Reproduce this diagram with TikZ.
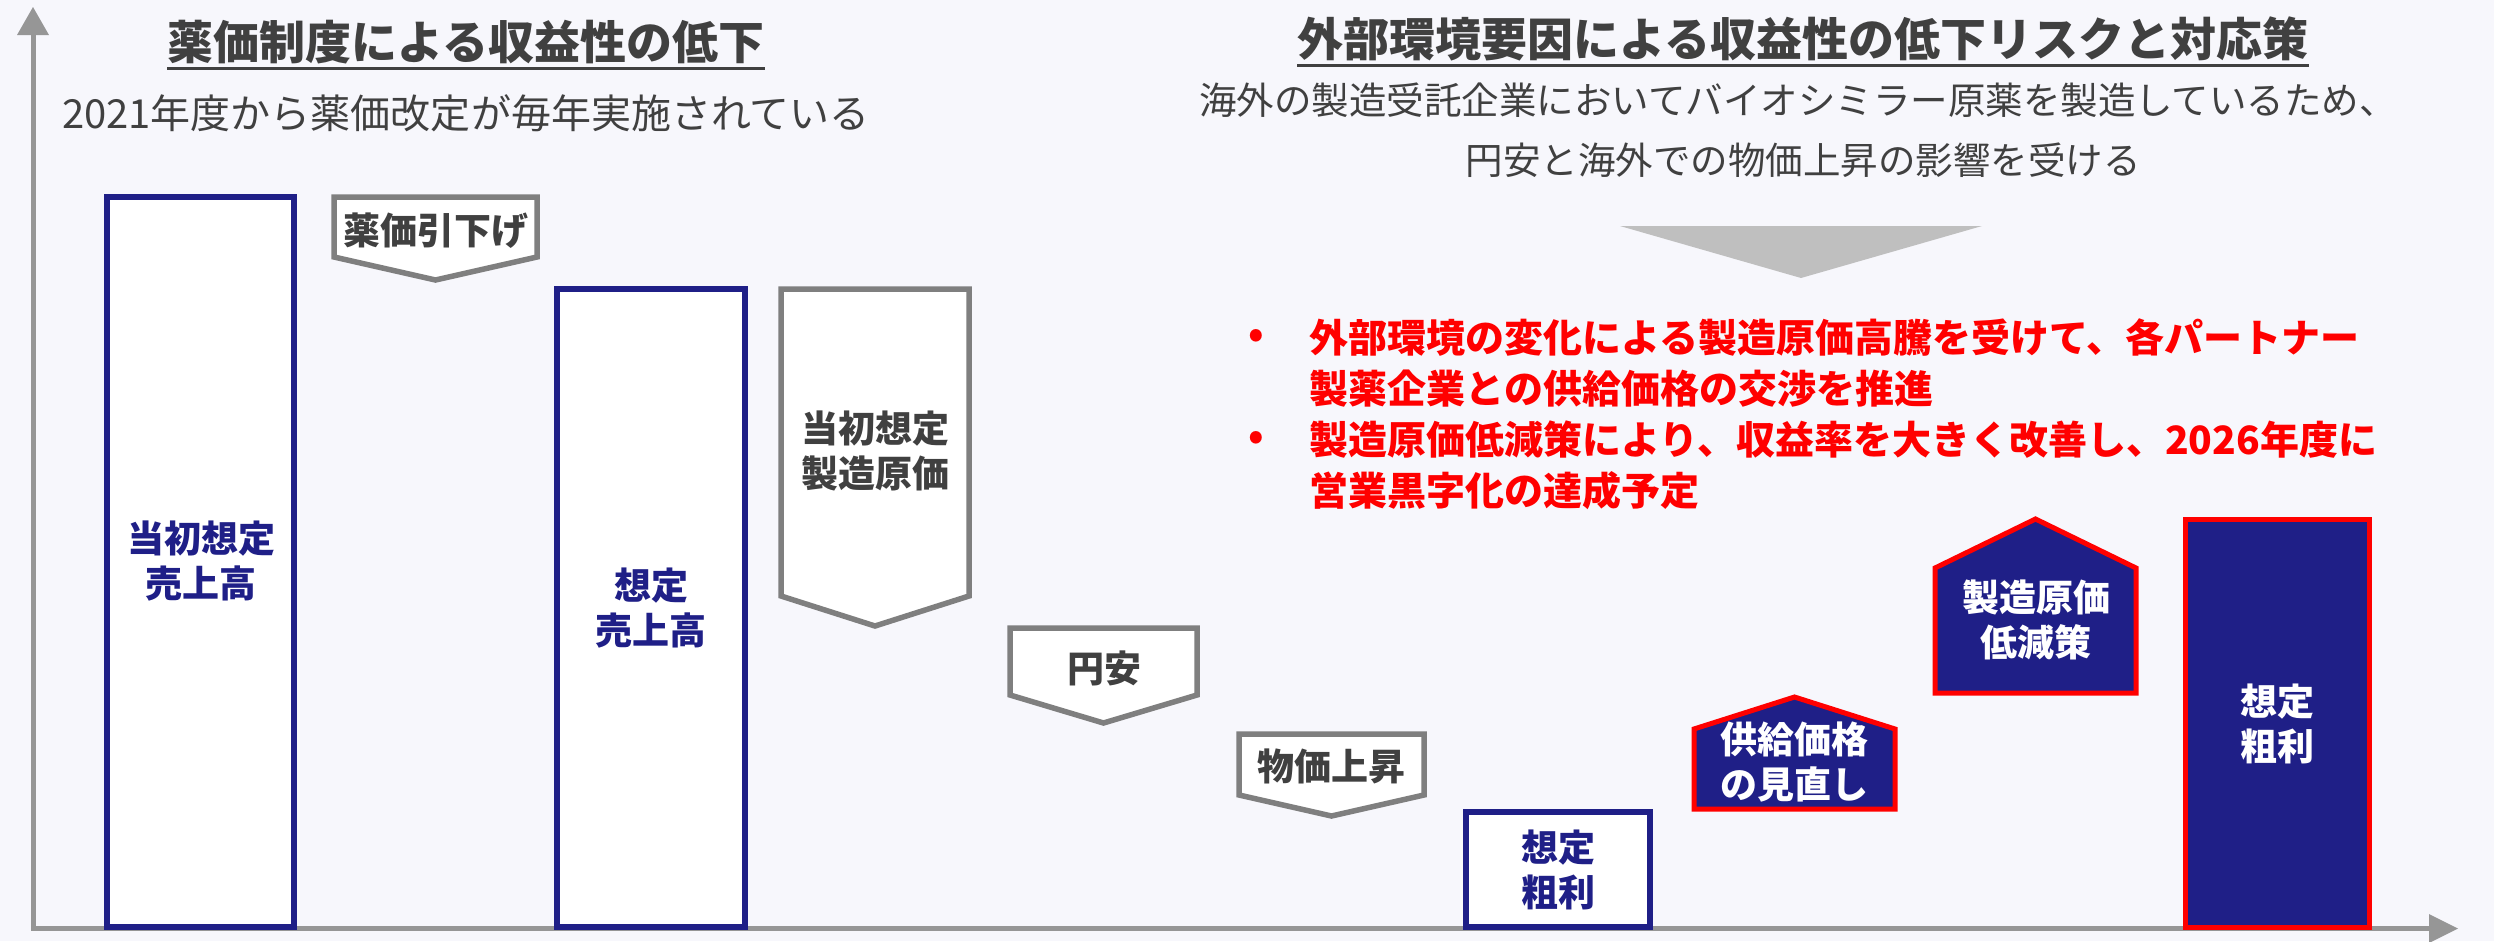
\documentclass[tikz,border=0pt]{standalone}
\usepackage{fontspec}
\setmainfont{Noto Sans CJK JP}
\definecolor{bg}{HTML}{F7F7FC}
\definecolor{navy}{HTML}{1F1F87}
\definecolor{gborder}{HTML}{7F7F7F}
\definecolor{txt}{HTML}{404040}
\definecolor{axisgray}{HTML}{969696}
\definecolor{trigray}{HTML}{BFBFBF}
\definecolor{myred}{HTML}{FF0000}
\begin{document}
\begin{tikzpicture}[x=0.4pt,y=-0.4pt,
  navybar/.style={draw=navy,fill=white,line width=2.2pt},
  graybox/.style={draw=gborder,fill=white,line width=2.2pt,line join=miter},
  redbox/.style={draw=myred,fill=navy,line width=2pt,line join=miter},
  lbl/.style={inner sep=0pt,align=center,font=\fontsize{14.8}{18}\selectfont\bfseries},
  navylbl/.style={lbl,text=navy},
  graylbl/.style={lbl,text=txt},
  whitelbl/.style={lbl,text=white},
  title/.style={inner sep=0pt,text=txt,font=\fontsize{18.4}{22}\selectfont\bfseries},
  desc/.style={inner sep=0pt,text=txt,font=\fontsize{15}{18}\selectfont},
  redtxt/.style={inner sep=0pt,anchor=west,text=myred,font=\fontsize{15.6}{20}\selectfont\bfseries},
  bullet/.style={inner sep=0pt,text=myred,font=\fontsize{15.6}{20}\selectfont\bfseries}]
\useasboundingbox (0,0) rectangle (2494,941);
\fill[bg] (0,0) rectangle (2494,941);

% axes
\draw[axisgray,line width=2pt] (33,929) -- (33,34);
\fill[axisgray] (17,35) -- (49,35) -- (33,7) -- cycle;
\draw[axisgray,line width=2pt] (31,928.5) -- (2430,928.5);
\fill[axisgray] (2429,914) -- (2429,943) -- (2458,928.5) -- cycle;

% titles
\node[title] (t1) at (466,42) {薬価制度による収益性の低下};
\draw[txt,line width=1.2pt] ([yshift=-1.5pt]t1.south west) -- ([yshift=-1.5pt]t1.south east);
\node[desc,font=\fontsize{16}{20}\selectfont] (s1) at (466,113) {2021年度から薬価改定が毎年実施されている};

\node[title] (t2) at (1803,39) {外部環境要因による収益性の低下リスクと対応策};
\draw[txt,line width=1.2pt] ([yshift=-1.5pt]t2.south west) -- ([yshift=-1.5pt]t2.south east);
\node[desc] (d1) at (1798,100) {海外の製造受託企業においてバイオシミラー原薬を製造しているため、};
\node[desc] (d2) at (1803,160) {円安と海外での物価上昇の影響を受ける};

\fill[trigray] (1620,226) -- (1982,226) -- (1801,278) -- cycle;

\node[bullet] (b1) at (1256,338) {•};
\node[redtxt] (r1) at (1309,338) {外部環境の変化による製造原価高騰を受けて、各パートナー};
\node[redtxt] (r2) at (1309,389) {製薬企業との供給価格の交渉を推進};
\node[bullet] (b2) at (1256,440) {•};
\node[redtxt] (r3) at (1309,440) {製造原価低減策により、収益率を大きく改善し、2026年度に};
\node[redtxt] (r4) at (1309,491) {営業黒字化の達成予定};

% bars and steps
\draw[navybar] (107,197) rectangle (294,927);
\node[navylbl] (l1) at (201,561) {当初想定\\売上高};

\draw[graybox] (334,197) -- (537,197) -- (537,257) -- (435.5,280) -- (334,257) -- cycle;
\node[graylbl] (l2) at (436,231) {薬価引下げ};

\draw[navybar] (557,289) rectangle (745,927);
\node[navylbl] (l3) at (651,608) {想定\\売上高};

\draw[graybox] (781,289) -- (969,289) -- (969,596) -- (875,626) -- (781,596) -- cycle;
\node[graylbl] (l4) at (875,451) {当初想定\\製造原価};

\draw[graybox] (1010,628) -- (1197,628) -- (1197,695) -- (1103.5,723) -- (1010,695) -- cycle;
\node[graylbl] (l5) at (1104,668) {円安};

\draw[graybox] (1239,734) -- (1424,734) -- (1424,795) -- (1331.5,816) -- (1239,795) -- cycle;
\node[graylbl] (l6) at (1331,766) {物価上昇};

\draw[navybar] (1466,812) rectangle (1650,927);
\node[navylbl] (l7) at (1558,870) {想定\\粗利};

\draw[redbox] (1694,809) -- (1694,729) -- (1794.5,697) -- (1895,729) -- (1895,809) -- cycle;
\node[whitelbl] (l8) at (1794,762) {供給価格\\の見直し};

\draw[redbox] (1935,693) -- (1935,568) -- (2035.5,519) -- (2136,568) -- (2136,693) -- cycle;
\node[whitelbl] (l9) at (2036,620) {製造原価\\低減策};

\draw[redbox] (2185,519) rectangle (2369,927);
\node[whitelbl] (l10) at (2277,724) {想定\\粗利};
\end{tikzpicture}
\end{document}
